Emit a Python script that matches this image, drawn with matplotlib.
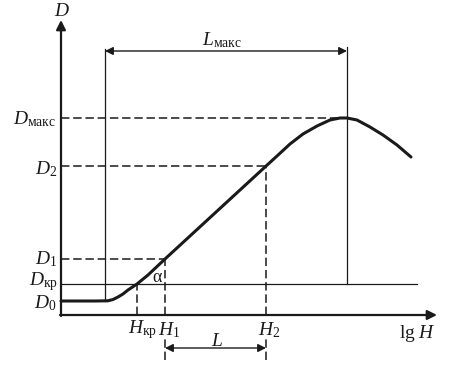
import matplotlib
matplotlib.use("Agg")
import matplotlib.pyplot as plt

plt.rcParams['mathtext.fontset'] = 'custom'
plt.rcParams['mathtext.rm'] = 'Liberation Serif'
plt.rcParams['mathtext.it'] = 'Liberation Serif:italic'
plt.rcParams['font.family'] = ['Liberation Serif', 'DejaVu Serif']

# Characteristic curve (lg H, D), arbitrary units
curve_lgH = [0.00, 0.34, 0.47, 0.52, 0.57, 0.62, 0.67, 0.76, 0.87, 1.04,
             2.04, 2.16, 2.29, 2.42, 2.56, 2.69, 2.79, 2.86, 2.96, 3.09,
             3.22, 3.36, 3.50]
curve_D = [0.14, 0.14, 0.142, 0.155, 0.18, 0.21, 0.25, 0.31, 0.40, 0.56,
           1.48, 1.59, 1.71, 1.81, 1.89, 1.95, 1.97, 1.97, 1.95, 1.88,
           1.80, 1.70, 1.58]

# Characteristic levels
D0, Dkr, D1, D2, Dmax = 0.14, 0.31, 0.56, 1.49, 1.97
Hkr, H1, H2 = 0.76, 1.04, 2.05
Lmax_left, Lmax_right = 0.44, 2.86
Lmax_y, L_y = 2.64, -0.33
axis_xmax, axis_ymax = 3.76, 2.95
Dkr_line_end = 3.56

fig = plt.figure(figsize=(4.51, 3.65), dpi=100)
ax = fig.add_axes([0, 0, 1, 1])
ax.set_xlim(-0.61, 3.90)
ax.set_ylim(-0.50, 3.15)
ax.axis('off')

ink = '#1a1a1a'
dash = dict(color=ink, lw=1.1, linestyle=(0, (5.5, 2.5)))
thin = dict(color=ink, lw=0.9)

# axes with arrows
ax.annotate('', xy=(0, axis_ymax), xytext=(0, -0.01),
            arrowprops=dict(arrowstyle='-|>', color=ink, lw=1.6,
                            mutation_scale=14, shrinkA=0, shrinkB=0))
ax.annotate('', xy=(axis_xmax, 0), xytext=(-0.01, 0),
            arrowprops=dict(arrowstyle='-|>', color=ink, lw=1.6,
                            mutation_scale=14, shrinkA=0, shrinkB=0))

# dashed guide lines
ax.plot([0, Lmax_right], [Dmax, Dmax], **dash)
ax.plot([0, H2], [D2, D2], **dash)
ax.plot([0, H1], [D1, D1], **dash)
ax.plot([Hkr, Hkr], [0, Dkr], **dash)
ax.plot([H1, H1], [0, D1], **dash)
ax.plot([H2, H2], [0, D2], **dash)
ax.plot([H1, H1], [-0.45, -0.24], **dash)
ax.plot([H2, H2], [-0.45, -0.24], **dash)

# solid thin lines
ax.plot([0, Dkr_line_end], [Dkr, Dkr], **thin)
ax.plot([Lmax_left, Lmax_left], [D0, Lmax_y + 0.02], **thin)
ax.plot([Lmax_right, Lmax_right], [Dkr, Lmax_y + 0.04], **thin)

# dimension arrows
ax.annotate('', xy=(Lmax_left, Lmax_y), xytext=(Lmax_right, Lmax_y),
            arrowprops=dict(arrowstyle='<|-|>', color=ink, lw=1.0,
                            mutation_scale=12, shrinkA=0, shrinkB=0))
ax.annotate('', xy=(H1, L_y), xytext=(H2, L_y),
            arrowprops=dict(arrowstyle='<|-|>', color=ink, lw=1.0,
                            mutation_scale=12, shrinkA=0, shrinkB=0))

# curve
ax.plot(curve_lgH, curve_D, color=ink, lw=2.2, solid_joinstyle='round',
        solid_capstyle='round')

fs = 14
# labels
ax.text(0.01, 3.04, r'$D$', fontsize=fs, ha='center', va='center', color=ink)
ax.text(-0.05, Dmax - 0.01, r'$D_{\mathrm{макс}}$', fontsize=fs, ha='right', va='center', color=ink)
ax.text(-0.04, D2 - 0.03, r'$D_{2}$', fontsize=fs, ha='right', va='center', color=ink)
ax.text(-0.04, D1 + 0.00, r'$D_{1}$', fontsize=fs, ha='right', va='center', color=ink)
ax.text(-0.03, Dkr + 0.02, r'$D_{\mathrm{кр}}$', fontsize=fs, ha='right', va='center', color=ink)
ax.text(-0.04, D0 - 0.02, r'$D_{0}$', fontsize=fs, ha='right', va='center', color=ink)
ax.text(Hkr + 0.20, -0.15, r'$H_{\mathrm{кр}}$', fontsize=fs, ha='right', va='center', color=ink)
ax.text(H1 + 0.04, -0.15, r'$H_{1}$', fontsize=fs, ha='center', va='center', color=ink)
ax.text(H2 + 0.03, -0.15, r'$H_{2}$', fontsize=fs, ha='center', va='center', color=ink)
ax.text(3.56, -0.19, r'$\mathrm{lg}\ H$', fontsize=fs, ha='center', va='center', color=ink)
ax.text(1.56, -0.26, r'$L$', fontsize=fs, ha='center', va='center', color=ink)
ax.text(1.61, 2.75, r'$L_{\mathrm{макс}}$', fontsize=fs, ha='center', va='center', color=ink)
ax.text(0.96, 0.37, 'α', fontsize=13, ha='center', va='center', color=ink)

fig.savefig('out.png', dpi=100)
